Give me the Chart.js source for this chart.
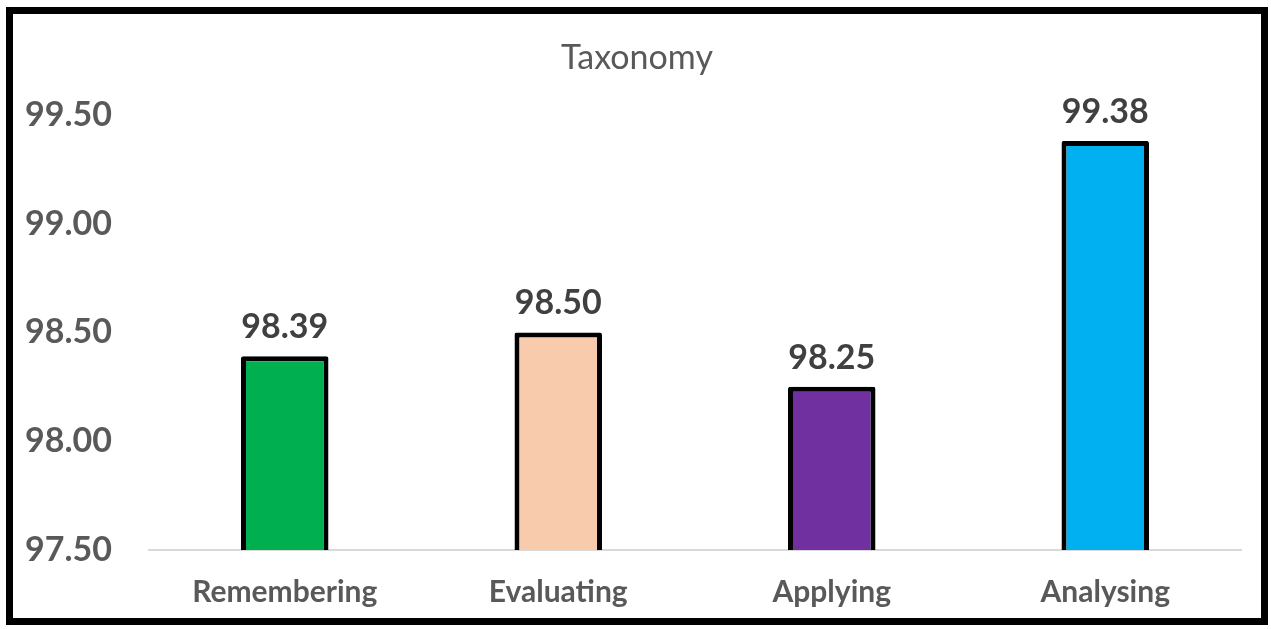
<!DOCTYPE html>
<html lang="en">
<head>
    <meta charset="UTF-8">
    <title>Taxonomy</title>
    <script src="https://cdn.jsdelivr.net/npm/chart.js"></script>
    <style>
        body {
            margin: 0;
            background-color: #ffffff;
        }
        .frame {
            position: absolute;
            left: 6px;
            top: 7px;
            width: 1262px;
            height: 618px;
            border: 7px solid #000000;
            box-sizing: border-box;
            background-color: #ffffff;
        }
        .frame canvas {
            display: block;
        }
    </style>
</head>
<body>
    <div class="frame">
        <canvas id="taxonomy-chart" width="1248" height="604"></canvas>
    </div>
    <script>
        // chart data
        const categories = ['Remembering', 'Evaluating', 'Applying', 'Analysing'];
        const scores = [98.39, 98.50, 98.25, 99.38];
        const barColors = ['#00B050', '#F8CBAD', '#7030A0', '#00B0F0'];
        const yTicks = [97.5, 98.0, 98.5, 99.0, 99.5];

        // value labels above each bar
        const valueLabels = {
            id: 'valueLabels',
            afterDatasetsDraw(chart) {
                const ctx = chart.ctx;
                const meta = chart.getDatasetMeta(0);
                ctx.save();
                ctx.font = 'bold 34px Lato';
                ctx.fillStyle = '#404040';
                ctx.textAlign = 'center';
                ctx.textBaseline = 'bottom';
                meta.data.forEach((bar, i) => {
                    ctx.fillText(scores[i].toFixed(2), bar.x, bar.y - 12);
                });
                ctx.restore();
            }
        };

        const ctx = document.getElementById('taxonomy-chart').getContext('2d');
        new Chart(ctx, {
            type: 'bar',
            data: {
                labels: categories,
                datasets: [{
                    data: scores,
                    backgroundColor: barColors,
                    borderColor: '#000000',
                    borderWidth: 5,
                    borderRadius: 2,
                    borderSkipped: false,
                    categoryPercentage: 1,
                    barPercentage: 0.32
                }]
            },
            options: {
                responsive: false,
                animation: false,
                layout: { padding: 0 },
                plugins: {
                    legend: { display: false },
                    tooltip: { enabled: false },
                    title: {
                        display: true,
                        text: 'Taxonomy',
                        color: '#595959',
                        font: { family: 'Lato', size: 34, weight: 'normal' },
                        padding: { top: 24, bottom: 36 }
                    }
                },
                scales: {
                    x: {
                        grid: { display: false, drawTicks: false },
                        border: { display: false },
                        ticks: {
                            color: '#595959',
                            font: { family: 'Lato', size: 30, weight: 'bold' },
                            padding: 24
                        },
                        afterFit(scale) { scale.height = 68; }
                    },
                    y: {
                        min: 97.5,
                        max: 99.5,
                        afterBuildTicks(scale) {
                            scale.ticks = yTicks.map(v => ({ value: v }));
                        },
                        grid: {
                            drawTicks: false,
                            lineWidth: 2,
                            color: c => (c.tick && c.tick.value === 97.5) ? '#d9d9d9' : 'rgba(0,0,0,0)'
                        },
                        border: { display: false },
                        ticks: {
                            color: '#595959',
                            font: { family: 'Lato', size: 34, weight: 'bold' },
                            padding: 36,
                            callback: v => Number(v).toFixed(2)
                        },
                        afterFit(scale) { scale.width = 135; }
                    },
                    // empty right margin so the title stays centred on the frame
                    yRight: {
                        position: 'right',
                        display: true,
                        grid: { display: false, drawTicks: false },
                        border: { display: false },
                        ticks: { display: false },
                        afterFit(scale) { scale.width = 19; }
                    }
                }
            },
            plugins: [valueLabels]
        });
    </script>
</body>
</html>
